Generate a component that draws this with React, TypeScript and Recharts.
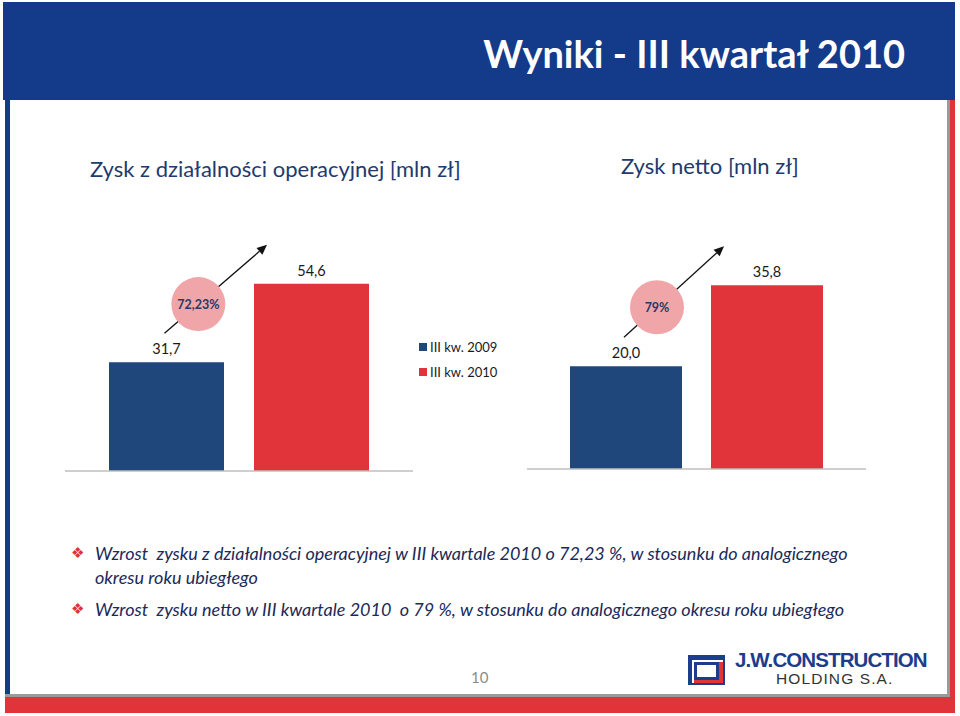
import React from 'react';
import { BarChart, Bar, XAxis, YAxis, LabelList } from 'recharts';

const seriesNames = ['III kw. 2009', 'III kw. 2010'];
const operatingProfit = [31.7, 54.6];
const netProfit = [20.0, 35.8];
const growthLabels = ['72,23%', '79%'];
const chartTitles = ['Zysk z działalności operacyjnej [mln zł]', 'Zysk netto [mln zł]'];
const slideTitle = 'Wyniki - III kwartał 2010';
const bulletLines = [
  'Wzrost  zysku z działalności operacyjnej w III kwartale 2010 o 72,23 %, w stosunku do analogicznego',
  'okresu roku ubiegłego',
  'Wzrost  zysku netto w III kwartale 2010  o 79 %, w stosunku do analogicznego okresu roku ubiegłego',
];
const pageNumber = '10';

const opData = [{ name: 'III kw.', q2009: operatingProfit[0], q2010: operatingProfit[1] }];
const netData = [{ name: 'III kw.', q2009: netProfit[0], q2010: netProfit[1] }];

const HEADER = '#143A8A';
const BLUE = '#1F477C';
const RED = '#E0333A';
const TEXT_BLUE = '#1E3A6E';
const FONT = 'Lato, "Open Sans", sans-serif';

const fmt = (v: any) => Number(v).toFixed(1).replace('.', ',');

function makeGrowth(v2010: number, label: string, gap: number) {
  return (props: any) => {
    const vb = props.viewBox && props.viewBox.width !== undefined ? props.viewBox : props;
    const x = Number(vb.x), y = Number(vb.y), w = Number(vb.width), h = Number(vb.height);
    const value = Number(props.value);
    if (!isFinite(x) || !isFinite(y) || !value) return null;
    const scale = h / value;
    const base = y + h;
    const y2010 = base - v2010 * scale;
    const x2010 = x + w + gap;
    const sx = x + w / 2 - 2, sy = y - 29;
    const ex = x2010 + 13, ey = y2010 - 39;
    const t = 0.33;
    const cx = sx + (ex - sx) * t, cy = sy + (ey - sy) * t;
    const ang = Math.atan2(ey - sy, ex - sx);
    const L = 10, W = 4.5;
    const bx = ex - L * Math.cos(ang), by = ey - L * Math.sin(ang);
    const p1 = `${bx + W * Math.sin(ang)},${by - W * Math.cos(ang)}`;
    const p2 = `${bx - W * Math.sin(ang)},${by + W * Math.cos(ang)}`;
    return (
      <g>
        <line x1={sx} y1={sy} x2={bx} y2={by} stroke="#111" strokeWidth={1.3} />
        <polygon points={`${ex},${ey} ${p1} ${p2}`} fill="#111" />
        <circle cx={cx} cy={cy} r={27} fill="#F0A6A9" />
        <text x={cx} y={cy} textAnchor="middle" dominantBaseline="central" fontFamily={FONT} fontWeight={700} fontSize={12.5} fill="#2B3767">
          {label}
        </text>
      </g>
    );
  };
}

function ProfitChart(props: { data: any[]; max: number; width: number; height: number; barSize: number; gap: number; growth: string; v2010: number }) {
  const { data, max, width, height, barSize, gap, growth, v2010 } = props;
  return (
    <BarChart width={width} height={height} data={data} margin={{ top: 20, right: 0, bottom: 0, left: 0 }} barSize={barSize} barGap={gap}>
      <XAxis dataKey="name" tick={false} tickLine={false} axisLine={{ stroke: '#BFBFBF', strokeWidth: 1.5 }} height={1} />
      <YAxis hide domain={[0, max]} />
      <Bar dataKey="q2009" name={seriesNames[0]} fill={BLUE} isAnimationActive={false}>
        <LabelList dataKey="q2009" position="top" offset={8} formatter={fmt} fontFamily={FONT} fontSize={14.5} fill="#1a1a1a" />
        <LabelList dataKey="q2009" content={makeGrowth(v2010, growth, gap)} />
      </Bar>
      <Bar dataKey="q2010" name={seriesNames[1]} fill={RED} isAnimationActive={false}>
        <LabelList dataKey="q2010" position="top" offset={8} formatter={fmt} fontFamily={FONT} fontSize={14.5} fill="#1a1a1a" />
      </Bar>
    </BarChart>
  );
}

const abs = (s: React.CSSProperties): React.CSSProperties => ({ position: 'absolute', ...s });

export default function App() {
  return (
    <div style={{ position: 'relative', width: 960, height: 716, background: '#fff', overflow: 'hidden', fontFamily: FONT }}>
      <style>{'body{margin:0;}'}</style>
      {/* frame */}
      <div style={abs({ left: 3, top: 2, width: 952, height: 98, background: HEADER })} />
      <div style={abs({ left: 5, top: 100, width: 5, height: 596, background: HEADER })} />
      <div style={abs({ left: 947, top: 100, width: 3, height: 596, background: '#9A9A9A' })} />
      <div style={abs({ left: 950, top: 100, width: 5, height: 613, background: RED })} />
      <div style={abs({ left: 5, top: 694, width: 945, height: 3, background: '#9A9A9A' })} />
      <div style={abs({ left: 5, top: 697, width: 950, height: 16, background: RED })} />

      {/* title */}
      <div style={abs({ right: 55, top: 30, fontSize: 38, lineHeight: '46px', fontWeight: 700, color: '#fff', whiteSpace: 'nowrap' })}>{slideTitle}</div>

      {/* chart titles */}
      <div style={abs({ left: 90, top: 155, fontSize: 22, lineHeight: '28px', color: TEXT_BLUE, whiteSpace: 'nowrap' })}>{chartTitles[0]}</div>
      <div style={abs({ left: 621, top: 152, fontSize: 22, lineHeight: '28px', color: TEXT_BLUE, whiteSpace: 'nowrap' })}>{chartTitles[1]}</div>

      {/* charts */}
      <div style={abs({ left: 65, top: 211 })}>
        <ProfitChart data={opData} max={70} width={348} height={261} barSize={115} gap={30} growth={growthLabels[0]} v2010={operatingProfit[1]} />
      </div>
      <div style={abs({ left: 527, top: 218 })}>
        <ProfitChart data={netData} max={45} width={339} height={252} barSize={112} gap={29} growth={growthLabels[1]} v2010={netProfit[1]} />
      </div>

      {/* legend */}
      {seriesNames.map((n, i) => (
        <div key={n} style={abs({ left: 419, top: 339 + i * 25, display: 'flex', alignItems: 'center', fontSize: 13, lineHeight: '16px', color: '#1a1a1a', whiteSpace: 'nowrap' })}>
          <span style={{ display: 'inline-block', width: 8, height: 8, background: i === 0 ? BLUE : RED, marginRight: 3 }} />
          {n}
        </div>
      ))}

      {/* bullets */}
      {[0, 1].map((k) => (
        <div key={k} style={abs({ left: 71, top: k === 0 ? 544 : 600, fontSize: 15, lineHeight: '18px', color: '#D4373F', fontFamily: '"DejaVu Sans", sans-serif' })}>❖</div>
      ))}
      <div style={abs({ left: 95, top: 541, fontSize: 18, lineHeight: '24px', fontStyle: 'italic', color: '#1B2A5A', whiteSpace: 'pre' })}>
        {bulletLines[0]}
        <br />
        {bulletLines[1]}
      </div>
      <div style={abs({ left: 95, top: 597, fontSize: 18, lineHeight: '24px', fontStyle: 'italic', color: '#1B2A5A', whiteSpace: 'pre' })}>{bulletLines[2]}</div>

      {/* footer */}
      <div style={abs({ left: 471, top: 668, fontSize: 15, lineHeight: '18px', color: '#8C8C8C' })}>{pageNumber}</div>
      <svg style={abs({ left: 686, top: 652 })} width={44} height={36}>
        <rect x={2} y={3} width={37} height={30} fill="#1E3C8C" />
        <rect x={6} y={8} width={31} height={23} fill="#fff" />
        <rect x={8} y={10} width={29} height={21} fill={RED} />
        <rect x={8} y={10} width={25} height={18} fill="#1E3C8C" />
        <rect x={11} y={13} width={19} height={12} fill="#fff" />
      </svg>
      <div style={abs({ left: 735, top: 651, fontSize: 20.5, lineHeight: '17px', fontWeight: 900, color: '#1E3C8C', fontFamily: '"Liberation Sans", Arial, sans-serif', letterSpacing: -0.9, whiteSpace: 'nowrap' })}>J.W.CONSTRUCTION</div>
      <div style={abs({ left: 776, top: 672, fontSize: 15.5, lineHeight: '14px', color: '#333', fontFamily: '"Liberation Sans", Arial, sans-serif', letterSpacing: 1.1, whiteSpace: 'nowrap' })}>HOLDING S.A.</div>
    </div>
  );
}
